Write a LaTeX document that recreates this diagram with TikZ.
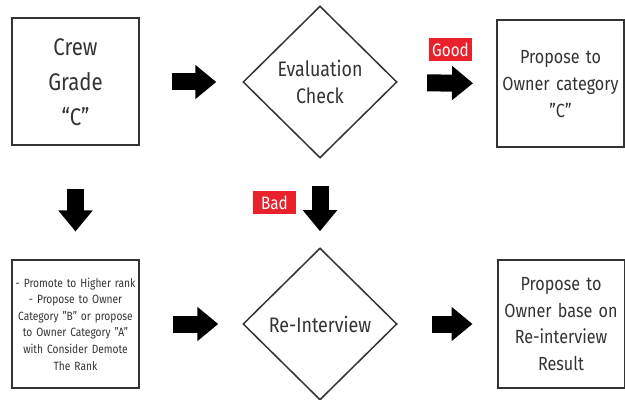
\documentclass[tikz,border=0pt]{standalone}
\usepackage{fontspec}
\setmainfont{Fira Sans}[FakeStretch=0.85]
\usetikzlibrary{positioning, calc, shapes.geometric, arrows.meta}
\definecolor{boxgray}{HTML}{333333}
\definecolor{tagred}{HTML}{E8212B}

\begin{document}
\begin{tikzpicture}[x=0.5pt, y=-0.5pt]
    % Define block styles
    \tikzstyle{block} = [rectangle, draw=boxgray, line width=1pt, text=boxgray, minimum width=63.5pt, minimum height=63.5pt, text width=62pt, align=center, inner sep=0pt]
    \tikzstyle{decision} = [diamond, draw=boxgray, line width=0.75pt, text=boxgray, minimum width=77pt, minimum height=76pt, inner sep=0pt, align=center]
    \tikzstyle{fat} = [line width=8.5pt, -{Triangle[width=16.5pt, length=10.5pt]}]
    \tikzstyle{tag} = [fill=tagred, text=white, minimum width=21.5pt, minimum height=11.5pt, inner sep=0pt, font=\fontsize{9}{9}\selectfont]

    \useasboundingbox (0,0) rectangle (625,400);

    % Place nodes
    \node [block, font=\fontsize{12}{17.5}\selectfont] (crew) at (75.5,82) {Crew\\Grade\\“C”};
    \node [decision, font=\fontsize{10.5}{13.5}\selectfont] (eval) at (320,82) {Evaluation\\Check};
    \node [block, font=\fontsize{9.5}{13.3}\selectfont] (owner_c) at (560.5,84) {Propose to\\Owner category\\"C"};
    \node [block, font=\fontsize{6}{8.3}\selectfont] (promote) at (75.5,324) {- Promote to Higher rank\\- Propose to Owner\\Category "B" or propose\\to Owner Category "A"\\with Consider Demote\\The Rank};
    \node [decision, font=\fontsize{10.5}{13.5}\selectfont] (reint) at (320,324) {Re-Interview};
    \node [block, font=\fontsize{9.5}{13.3}\selectfont] (owner_r) at (561,324) {Propose to\\Owner base on\\Re-interview\\Result};

    % Draw connections as arrows
    \draw [fat, shorten <=16pt, shorten >=13pt] (crew) -- (eval);
    \draw [fat, shorten <=15pt, shorten >=11.5pt] (eval) -- (owner_c);
    \draw [fat, shorten <=21.5pt, shorten >=14pt] (crew) -- (promote);
    \draw [fat, shorten <=13.5pt, shorten >=8pt] (eval) -- (reint);
    \draw [fat, shorten <=16.5pt, shorten >=12pt] (promote) -- (reint);
    \draw [fat, shorten <=17pt, shorten >=12pt] (reint) -- (owner_r);

    % Add tags on the arrows
    \node [tag] (good) at (450.5,49.5) {Good};
    \node [tag] (bad) at (274.5,202.5) {Bad};
\end{tikzpicture}
\end{document}
